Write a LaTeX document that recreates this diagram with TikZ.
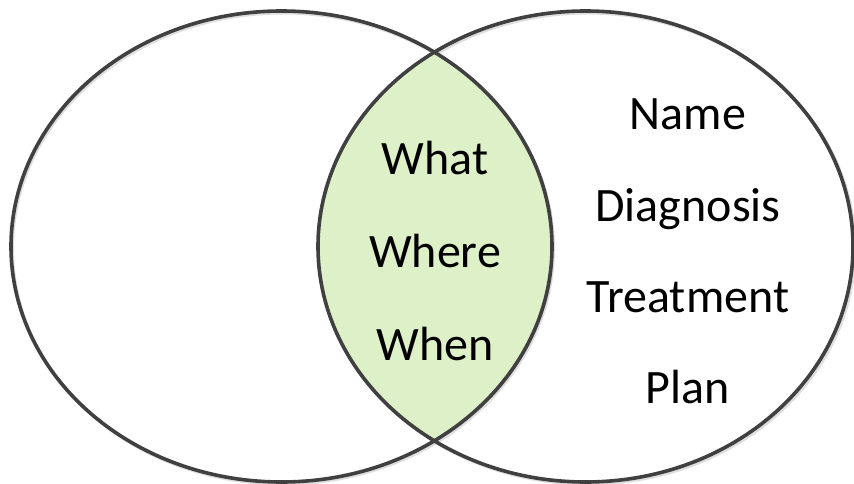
\documentclass[tikz,border=0pt]{standalone}
\usepackage{fontspec}
\setmainfont{Carlito}
\definecolor{rimgray}{RGB}{64,64,64}
\definecolor{shadegray}{RGB}{222,222,222}
\definecolor{overlapgreen}{RGB}{221,240,200}
\begin{document}
\begin{tikzpicture}[x=1pt,y=-1pt,
  rim/.style={draw=rimgray,line width=3.6pt},
  rimshade/.style={draw=shadegray,line width=3pt},
  label/.style={font=\fontsize{48}{56}\selectfont,text=black,anchor=base,inner sep=0pt}]
  \useasboundingbox (0,0) rectangle (854,484);
  % soft drop shadow of the two outlines
  \draw[rimshade] (283,248.5) ellipse [x radius=270.5,y radius=235.5];
  \draw[rimshade] (587.5,248.5) ellipse [x radius=267.5,y radius=235.5];
  % shared region
  \begin{scope}
    \clip (281.5,246.5) ellipse [x radius=270.5,y radius=235.5];
    \fill[overlapgreen] (585.5,246.5) ellipse [x radius=267.5,y radius=235.5];
  \end{scope}
  % outlines
  \draw[rim] (281.5,246.5) ellipse [x radius=270.5,y radius=235.5];
  \draw[rim] (585.5,246.5) ellipse [x radius=267.5,y radius=235.5];
  % overlap labels
  \node[label] (what)  at (435,175) {What};
  \node[label] (where) at (435,267) {Where};
  \node[label] (when)  at (435,360) {When};
  % right-set labels
  \node[label] (name)      at (688,130) {Name};
  \node[label] (diagnosis) at (688,221) {Diagnosis};
  \node[label] (treatment) at (688,312) {Treatment};
  \node[label] (plan)      at (688,403) {Plan};
\end{tikzpicture}
\end{document}
